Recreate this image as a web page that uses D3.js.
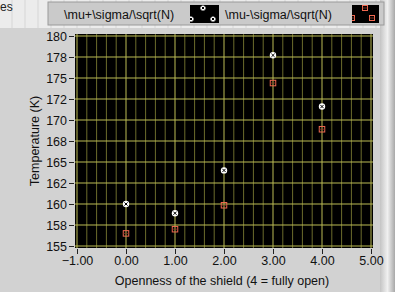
<!DOCTYPE html>
<html>
<head>
<meta charset="utf-8">
<script src="https://cdn.jsdelivr.net/npm/d3@7"></script>
<style>
  body { margin: 0; background: #d4d4d4; }
  svg { display: block; font-family: "Liberation Sans", Arial, sans-serif; }
</style>
</head>
<body>
<div id="chart"></div>
<script>
const openness = [0, 1, 2, 3, 4];
const upper = [160.0, 158.9, 164.0, 177.7, 171.6];   // \mu+\sigma/\sqrt(N)
const lower = [156.5, 157.0, 159.85, 174.4, 168.9];  // \mu-\sigma/\sqrt(N)
const xTicks = [-1, 0, 1, 2, 3, 4, 5];
const yTicks = [155, 157.5, 160, 162.5, 165, 167.5, 170, 172.5, 175, 177.5, 180];
const yTickLabels = ["155", "158", "160", "162", "165", "168", "170", "172", "175", "178", "180"];
const seriesNames = ["\\mu+\\sigma/\\sqrt(N)", "\\mu-\\sigma/\\sqrt(N)"];

const W = 395, H = 292;
const svg = d3.select("#chart").append("svg")
  .attr("width", W).attr("height", H);
const defs = svg.append("defs");

// panel backgrounds
const grid = svg.append("g");
grid.append("rect").attr("width", W).attr("height", 28).attr("fill", "#ececec");
for (let gx = 12; gx < W; gx += 13)
  grid.append("line").attr("x1", gx).attr("x2", gx).attr("y1", 0).attr("y2", 28).attr("stroke", "#d6d6d6");
grid.append("text").attr("x", 0).attr("y", 11).attr("font-size", 12).attr("fill", "#222").text("es");

svg.append("rect").attr("x", 0).attr("y", 28).attr("width", 384).attr("height", H - 28).attr("fill", "#d2d2d2");
// right 3D frame edge
const edge = defs.append("linearGradient").attr("id", "edge");
edge.append("stop").attr("offset", "0%").attr("stop-color", "#c4c4c4");
edge.append("stop").attr("offset", "50%").attr("stop-color", "#f0f0f0");
edge.append("stop").attr("offset", "100%").attr("stop-color", "#a8a8a8");
svg.append("rect").attr("x", 380).attr("y", 0).attr("width", 15).attr("height", H).attr("fill", "url(#edge)");

// legend
const lg = svg.append("g");
lg.append("rect").attr("x", 48).attr("y", 2).attr("width", 336).attr("height", 23)
  .attr("fill", "#cacaca").attr("stroke", "#9a9a9a");
lg.append("text").attr("x", 64).attr("y", 19).attr("font-size", 12.5).attr("fill", "#111").text(seriesNames[0]);
lg.append("text").attr("x", 225).attr("y", 19).attr("font-size", 12.5).attr("fill", "#111").text(seriesNames[1]);
const sw = [[190, 5, 29, 18], [352, 5, 27, 18]];
sw.forEach((s, i) => {
  defs.append("clipPath").attr("id", "sw" + i).append("rect")
    .attr("x", s[0]).attr("y", s[1]).attr("width", s[2]).attr("height", s[3]);
  lg.append("rect").attr("x", s[0]).attr("y", s[1]).attr("width", s[2]).attr("height", s[3]).attr("fill", "#000");
});

const x = d3.scaleLinear().domain([-1, 5]).range([77, 371]);
const y = d3.scaleLinear().domain([155, 180]).range([246, 36]);

// plot area
svg.append("rect").attr("x", 75).attr("y", 34).attr("width", 298).attr("height", 214).attr("fill", "#000");

const minor = d3.range(-1, 5.001, 0.2).filter(v => Math.abs(v - Math.round(v)) > 0.01);
svg.append("g").selectAll("line").data(minor).join("line")
  .attr("x1", d => x(d)).attr("x2", d => x(d)).attr("y1", 34).attr("y2", 248)
  .attr("stroke", "#6c6c2c").attr("stroke-width", 1);
svg.append("g").selectAll("line").data(xTicks).join("line")
  .attr("x1", d => x(d)).attr("x2", d => x(d)).attr("y1", 34).attr("y2", 248)
  .attr("stroke", "#bcbc54").attr("stroke-width", 1);
svg.append("g").selectAll("line").data(yTicks).join("line")
  .attr("x1", 75).attr("x2", 373).attr("y1", d => y(d)).attr("y2", d => y(d))
  .attr("stroke", "#bcbc54").attr("stroke-width", 1);

// axes
const xAxis = svg.append("g")
  .attr("transform", "translate(0,249)")
  .call(d3.axisBottom(x).tickValues(xTicks).tickFormat(d3.format(".2f")).tickSize(5).tickPadding(2));
const yAxis = svg.append("g")
  .attr("transform", "translate(74,0)")
  .call(d3.axisLeft(y).tickValues(yTicks).tickFormat((d, i) => yTickLabels[i]).tickSize(5).tickPadding(2));
[xAxis, yAxis].forEach(a => {
  a.select(".domain").remove();
  a.selectAll("line").attr("stroke", "#222");
  a.selectAll("text").attr("font-size", 12.5).attr("fill", "#111")
    .attr("font-family", "Liberation Sans, Arial, sans-serif");
});

svg.append("text").attr("x", 222).attr("y", 285).attr("text-anchor", "middle")
  .attr("font-size", 12.5).attr("fill", "#111").text("Openness of the shield (4 = fully open)");
svg.append("text").attr("transform", "translate(39,141) rotate(-90)").attr("text-anchor", "middle")
  .attr("font-size", 12.5).attr("fill", "#111").text("Temperature (K)");

// markers
function circleMark(g, cx, cy, r = 3.2) {
  g.append("circle").attr("cx", cx).attr("cy", cy).attr("r", r).attr("fill", "#fff");
  const k = r * 0.5;
  g.append("path").attr("d", `M${cx - k},${cy - k}L${cx + k},${cy + k}M${cx + k},${cy - k}L${cx - k},${cy + k}`)
    .attr("stroke", "#000").attr("stroke-width", 1);
}
function squareMark(g, cx, cy, s = 5.5) {
  g.append("rect").attr("x", cx - s / 2).attr("y", cy - s / 2).attr("width", s).attr("height", s)
    .attr("fill", "none").attr("stroke", "#f06850").attr("stroke-width", 1);
  g.append("line").attr("x1", cx - s / 2).attr("x2", cx + s / 2).attr("y1", cy).attr("y2", cy)
    .attr("stroke", "#903828").attr("stroke-width", 0.8);
}
const marks = svg.append("g");
openness.forEach((o, i) => {
  squareMark(marks, x(o), y(lower[i]));
  circleMark(marks, x(o), y(upper[i]));
});

// legend swatch markers (clipped to the swatch)
const s0 = lg.append("g").attr("clip-path", "url(#sw0)");
circleMark(s0, 203, 8, 2.6);
circleMark(s0, 191, 19, 2.6);
circleMark(s0, 213, 19, 2.6);
const s1 = lg.append("g").attr("clip-path", "url(#sw1)");
squareMark(s1, 365, 8, 5);
squareMark(s1, 352, 18, 5);
squareMark(s1, 372, 18, 5);
</script>
</body>
</html>
